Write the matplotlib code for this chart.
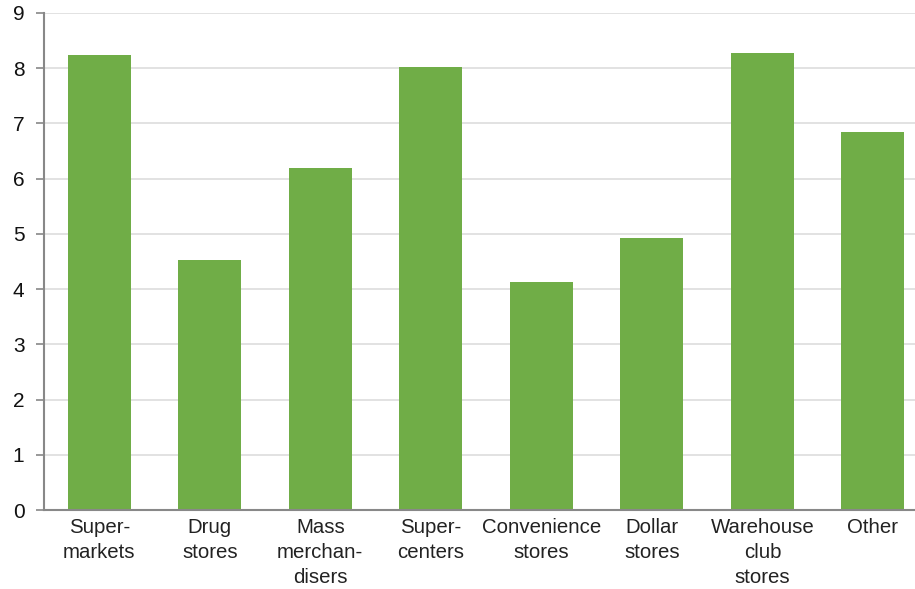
import numpy as np
import matplotlib.pyplot as plt

# Retail channels and their values
categories = ["Super-\nmarkets", "Drug\nstores", "Mass\nmerchan-\ndisers",
              "Super-\ncenters", "Convenience\nstores", "Dollar\nstores",
              "Warehouse\nclub\nstores", "Other"]
values = [8.23, 4.53, 6.20, 8.02, 4.13, 4.93, 8.28, 6.85]
yticks = [0, 1, 2, 3, 4, 5, 6, 7, 8, 9]

plt.rcParams["font.family"] = ["Liberation Sans", "DejaVu Sans"]

fig = plt.figure(figsize=(9.15, 5.89), dpi=100)
ax = fig.add_axes([0.048, 0.134, 0.952, 0.844])

x = np.arange(len(categories))
ax.bar(x, values, width=0.57, color="#70AD47", zorder=3)

ax.set_xlim(-0.5, 7.38)
ax.set_ylim(0, 9)
ax.set_yticks(yticks)
ax.set_xticks(x)
ax.set_xticklabels(categories, fontsize=14.7, color="#222222", linespacing=1.4)
ax.tick_params(axis="y", labelsize=15, labelcolor="#111111", length=6,
               width=1.2, color="#888888", pad=8)
ax.tick_params(axis="x", length=0, pad=6)

ax.grid(axis="y", color="#dddddd", linewidth=1.2, zorder=0)
for side in ["top", "right"]:
    ax.spines[side].set_visible(False)
for side in ["left", "bottom"]:
    ax.spines[side].set_color("#888888")
    ax.spines[side].set_linewidth(1.5)
ax.spines["bottom"].set_zorder(4)

fig.savefig("out.png", dpi=100)
